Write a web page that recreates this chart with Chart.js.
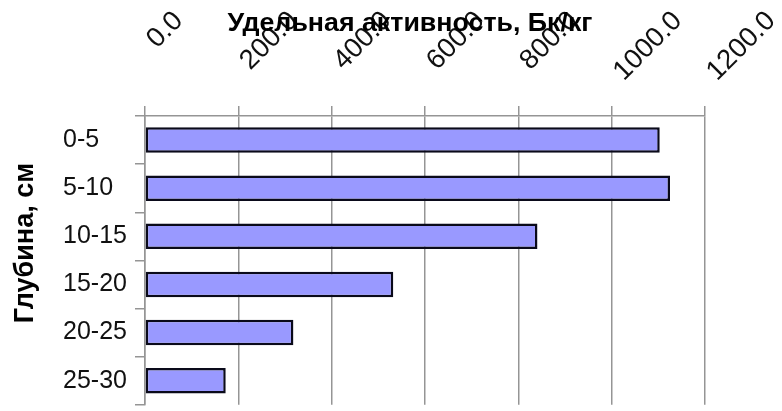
<!DOCTYPE html>
<html>
<head>
<meta charset="utf-8">
<script src="https://cdn.jsdelivr.net/npm/chart.js@4"></script>
<style>
html,body{margin:0;padding:0;background:#fff;}
#wrap{width:782px;height:411px;position:relative;}
</style>
</head>
<body>
<div id="wrap"><canvas id="c" width="782" height="411"></canvas></div>
<script>
const categories = ["0-5", "5-10", "10-15", "15-20", "20-25", "25-30"];
const activity = [1103, 1125, 841, 532, 318, 173];
const xTitle = "Удельная активность, Бк/кг";
const yTitle = "Глубина, см";
const xMin = 0, xMax = 1200, xStep = 200;

const gridColor = "#959595";

const labelPlugin = {
  id: "labels",
  afterDraw(chart) {
    const ctx = chart.ctx;
    const xs = chart.scales.x;
    ctx.save();
    // rotated x tick labels
    const f = 27.5;
    ctx.font = f + "px 'Liberation Sans', Arial, sans-serif";
    ctx.fillStyle = "#111";
    ctx.textAlign = "left";
    ctx.textBaseline = "alphabetic";
    xs.ticks.forEach(t => {
      const txt = Number(t.value).toFixed(1);
      const L = ctx.measureText(txt).width;
      const H = 0.72 * f;
      const px = xs.getPixelForValue(t.value) + 0.7071 * H - 2;
      const py = 8 + 0.7071 * (L + H);
      ctx.save();
      ctx.translate(px, py);
      ctx.rotate(-Math.PI / 4);
      ctx.fillText(txt, 0, 0);
      ctx.restore();
    });
    // x title
    ctx.font = "bold 26px 'Liberation Sans', Arial, sans-serif";
    ctx.fillStyle = "#000";
    ctx.textAlign = "center";
    ctx.textBaseline = "middle";
    ctx.save();
    ctx.translate(410, 24);
    ctx.scale(1.03, 1);
    ctx.fillText(xTitle, 0, 0);
    ctx.restore();
    // y title
    ctx.font = "bold 27px 'Liberation Sans', Arial, sans-serif";
    ctx.save();
    ctx.translate(26, 243);
    ctx.rotate(-Math.PI / 2);
    ctx.fillText(yTitle, 0, 0);
    ctx.restore();
    ctx.restore();
  }
};

new Chart(document.getElementById("c"), {
  type: "bar",
  data: {
    labels: categories,
    datasets: [{
      data: activity,
      backgroundColor: "#9999ff",
      borderColor: "#0a0a1a",
      borderWidth: 2.5,
      borderSkipped: false,
      barPercentage: 0.53,
      categoryPercentage: 1.0
    }]
  },
  options: {
    indexAxis: "y",
    responsive: false,
    animation: false,
    devicePixelRatio: 1,
    layout: { padding: { left: 63, right: 77, top: 0, bottom: 3 } },
    plugins: { legend: { display: false }, tooltip: { enabled: false }, title: { display: false } },
    scales: {
      x: {
        position: "top",
        min: xMin, max: xMax,
        ticks: { stepSize: xStep, display: false },
        grid: { color: gridColor, lineWidth: 1.5, drawTicks: true, tickLength: 10 },
        border: { display: true, color: gridColor, width: 1.5 },
        title: { display: false },
        afterFit(s) { s.height = 116; }
      },
      y: {
        offset: true,
        ticks: {
          color: "#111",
          crossAlign: "far",
          font: { family: "'Liberation Sans', Arial, sans-serif", size: 25, lineHeight: 0.1 },
          padding: 5
        },
        grid: { offset: true, drawOnChartArea: false, drawTicks: true, tickLength: 10, color: gridColor, lineWidth: 1.5 },
        border: { display: true, color: gridColor, width: 1.5 },
        title: { display: false },
        afterFit(s) { s.width = 82; }
      }
    }
  },
  plugins: [labelPlugin]
});
</script>
</body>
</html>
